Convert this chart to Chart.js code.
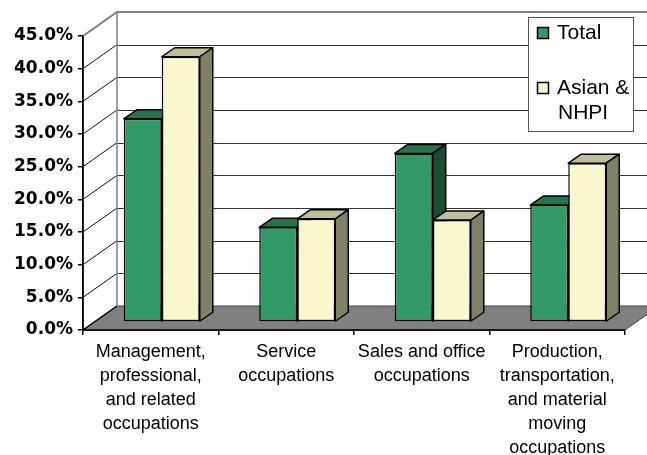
<!DOCTYPE html>
<html><head><meta charset="utf-8">
<script src="https://cdn.jsdelivr.net/npm/chart.js@4.4.1/dist/chart.umd.min.js"></script>
<style>html,body{margin:0;padding:0;background:#fff;}canvas{display:block;}</style>
</head><body>
<canvas id="c" width="647" height="455"></canvas>
<script>
const categories = [
  ["Management,", "professional,", "and related", "occupations"],
  ["Service", "occupations"],
  ["Sales and office", "occupations"],
  ["Production,", "transportation,", "and material", "moving", "occupations"]
];
const seriesNames = ["Total", "Asian & NHPI"];
const legendLines = [["Total"], ["Asian &", "NHPI"]];
const totalValues = [31.1, 14.5, 25.8, 17.9];
const asianValues = [40.6, 15.8, 15.6, 24.3];
const yMin = 0, yMax = 45, yStep = 5;

const FRONT = ['#339966', '#FAF6CE'];
const TOP = ['#26734D', '#BFBF99'];
const SIDE = ['#1A4D33', '#808066'];
const WALL = {dx: 34, dy: -24};
const BAR_OFF = {dx: 11, dy: -8};
const BAR_D = {dx: 13, dy: -9};

function drawFaces(chart, di) {
  const ctx = chart.ctx;
  const meta = chart.getDatasetMeta(di);
  ctx.save();
  ctx.lineWidth = 1.5;
  ctx.strokeStyle = '#000';
  ctx.lineJoin = 'round';
  meta.data.forEach(el => {
    const p = el.getProps(['x', 'y', 'base', 'width'], true);
    const l = p.x - p.width / 2, r = p.x + p.width / 2, t = p.y, b = p.base;
    // top face
    ctx.beginPath();
    ctx.moveTo(l, t); ctx.lineTo(r, t); ctx.lineTo(r + BAR_D.dx, t + BAR_D.dy); ctx.lineTo(l + BAR_D.dx, t + BAR_D.dy); ctx.closePath();
    ctx.fillStyle = TOP[di]; ctx.fill(); ctx.stroke();
    // side face
    ctx.beginPath();
    ctx.moveTo(r, t); ctx.lineTo(r + BAR_D.dx, t + BAR_D.dy); ctx.lineTo(r + BAR_D.dx, b + BAR_D.dy); ctx.lineTo(r, b); ctx.closePath();
    ctx.fillStyle = SIDE[di]; ctx.fill(); ctx.stroke();
  });
  ctx.restore();
}

const threeD = {
  id: 'threeD',
  beforeDatasetsDraw(chart) {
    const ctx = chart.ctx, a = chart.chartArea, ys = chart.scales.y;
    const L = a.left, R = a.right, B = a.bottom, T = a.top;
    ctx.save();
    // floor
    ctx.beginPath();
    ctx.moveTo(L, B); ctx.lineTo(R, B); ctx.lineTo(R + WALL.dx, B + WALL.dy); ctx.lineTo(L + WALL.dx, B + WALL.dy); ctx.closePath();
    ctx.fillStyle = '#808080'; ctx.fill();
    ctx.strokeStyle = '#404040'; ctx.lineWidth = 1; ctx.stroke();
    // back wall gridlines
    ctx.lineWidth = 1;
    for (let v = yMin + yStep; v < yMax; v += yStep) {
      const yy = Math.round(ys.getPixelForValue(v) + WALL.dy) + 0.5;
      ctx.strokeStyle = '#333';
      ctx.beginPath(); ctx.moveTo(L + WALL.dx, yy); ctx.lineTo(chart.width, yy); ctx.stroke();
    }
    // left wall diagonals
    for (let v = yMin + yStep; v < yMax; v += yStep) {
      const yy = ys.getPixelForValue(v);
      ctx.strokeStyle = '#111';
      ctx.beginPath(); ctx.moveTo(L, yy); ctx.lineTo(L + WALL.dx, yy + WALL.dy); ctx.stroke();
    }
    // top edges (gray)
    ctx.strokeStyle = '#808080'; ctx.lineWidth = 2;
    ctx.beginPath();
    ctx.moveTo(L, T); ctx.lineTo(L + WALL.dx, T + WALL.dy); ctx.lineTo(chart.width, T + WALL.dy);
    ctx.stroke();
    // back-left vertical edge
    ctx.lineWidth = 1.5;
    ctx.beginPath(); ctx.moveTo(L + WALL.dx, T + WALL.dy); ctx.lineTo(L + WALL.dx, B + WALL.dy); ctx.stroke();
    // left floor edge and front axes
    ctx.strokeStyle = '#000'; ctx.lineWidth = 1.5;
    ctx.beginPath(); ctx.moveTo(L, B); ctx.lineTo(L + WALL.dx, B + WALL.dy); ctx.stroke();
    ctx.beginPath(); ctx.moveTo(L, T); ctx.lineTo(L, B); ctx.lineTo(R, B); ctx.stroke();
    ctx.restore();
    // shift bars into the depth
    ctx.save();
    ctx.translate(BAR_OFF.dx, BAR_OFF.dy);
    drawFaces(chart, 0);
  },
  afterDatasetsDraw(chart) {
    drawFaces(chart, 1);
    chart.ctx.restore();
  },
  afterDraw(chart) {
    const ctx = chart.ctx;
    ctx.save();
    // legend box
    ctx.fillStyle = '#fff';
    ctx.fillRect(528.5, 17.5, 105, 114);
    ctx.strokeStyle = '#555'; ctx.lineWidth = 1;
    ctx.strokeRect(528.5, 17.5, 105, 114);
    const boxes = [27, 82];
    ctx.font = '21px "Liberation Sans", Arial, sans-serif';
    ctx.textBaseline = 'alphabetic';
    ctx.textAlign = 'left';
    legendLines.forEach((lines, i) => {
      ctx.fillStyle = FRONT[i];
      ctx.fillRect(537.5, boxes[i] + 0.5, 11, 11);
      ctx.strokeStyle = '#000'; ctx.lineWidth = 1.5;
      ctx.strokeRect(537.5, boxes[i] + 0.5, 11, 11);
      ctx.fillStyle = '#000';
      lines.forEach((s, j) => {
        ctx.fillText(s, 557 + (j > 0 ? 1 : 0), boxes[i] + 12 + j * 25);
      });
    });
    ctx.restore();
  }
};

new Chart(document.getElementById('c'), {
  type: 'bar',
  data: {
    labels: categories,
    datasets: [
      {label: seriesNames[0], data: totalValues, backgroundColor: FRONT[0], borderColor: '#000', borderWidth: 1.5, borderSkipped: false, clip: false},
      {label: seriesNames[1], data: asianValues, backgroundColor: FRONT[1], borderColor: '#000', borderWidth: 1.5, borderSkipped: false, clip: false}
    ]
  },
  options: {
    responsive: false,
    animation: false,
    devicePixelRatio: 1,
    layout: {padding: {left: 0, top: 36, right: 22, bottom: 0}},
    plugins: {legend: {display: false}, tooltip: {enabled: false}, title: {display: false}},
    datasets: {bar: {categoryPercentage: 0.561, barPercentage: 1.0}},
    scales: {
      x: {
        offset: true,
        grid: {offset: true, drawOnChartArea: false, drawTicks: true, tickLength: 5, color: '#000', lineWidth: 1.5},
        border: {display: true, color: '#000', width: 1.5},
        ticks: {
          color: '#000', padding: 5, maxRotation: 0, autoSkip: false,
          font: {family: '"Liberation Sans", Arial, sans-serif', size: 18, lineHeight: 24 / 18}
        },
        afterFit(s) { s.height = 125; }
      },
      y: {
        min: yMin, max: yMax,
        grid: {drawOnChartArea: false, drawTicks: true, tickLength: 5, color: '#000', lineWidth: 1.5},
        border: {display: true, color: '#000', width: 1.5},
        ticks: {
          stepSize: yStep, color: '#000', padding: 5,
          font: {family: '"DejaVu Sans", sans-serif', weight: 'bold', size: 17},
          callback: v => v.toFixed(1) + '%'
        },
        afterFit(s) { s.width = 83; }
      }
    }
  },
  plugins: [threeD]
});
</script>
</body></html>
